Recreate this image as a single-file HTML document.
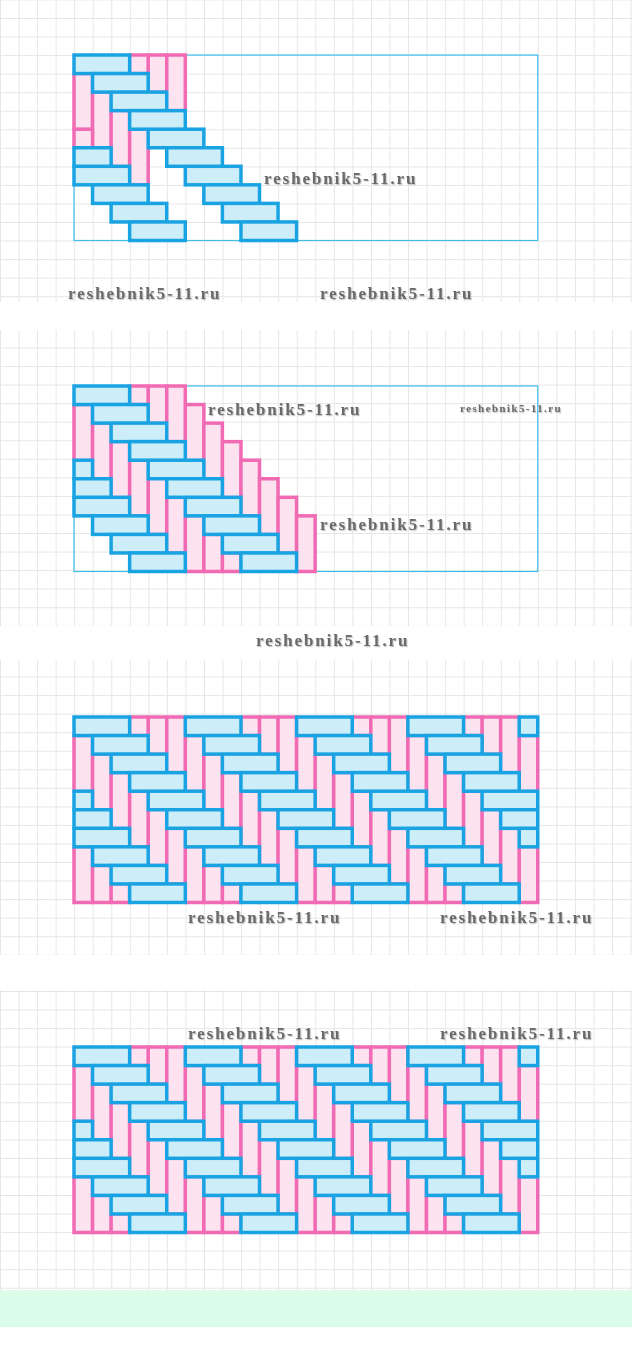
<!DOCTYPE html>
<html><head><meta charset="utf-8"><style>
html,body{margin:0;padding:0;background:#fff;width:632px;height:1360px;overflow:hidden;position:relative}
.sec{position:absolute;left:0;width:632px;
background-image:linear-gradient(#e6e6e6 1px,transparent 1px),linear-gradient(90deg,#e6e6e6 1px,transparent 1px);
background-size:18.55px 18.55px}
.wm{position:absolute;font-family:"Liberation Serif",serif;font-weight:bold;font-size:17px;letter-spacing:1.9px;color:#6a6a6a;text-shadow:1px 1px 1px #bbb;white-space:nowrap;line-height:1}
svg{position:absolute;left:0;top:0}
</style></head><body>
<div class="sec" style="top:0;height:302px;background-position:0 18px"></div>
<div class="sec" style="top:330px;height:296px;background-position:0 -1px"></div>
<div class="sec" style="top:660px;height:295px;background-position:0 -2px"></div>
<div class="sec" style="top:990px;height:300px;background-position:0 1px"></div>
<div style="position:absolute;top:1290px;left:0;width:632px;height:37px;background:#dcfcea"></div>
<svg id="s" width="632" height="1360"></svg>
<div class="wm" style="left:264px;top:170px">reshebnik5-11.ru</div>
<div class="wm" style="left:68px;top:285px">reshebnik5-11.ru</div>
<div class="wm" style="left:320px;top:285px">reshebnik5-11.ru</div>
<div class="wm" style="left:208px;top:401px">reshebnik5-11.ru</div>
<div class="wm" style="left:460px;top:404px;font-size:11px;letter-spacing:1.4px">reshebnik5-11.ru</div>
<div class="wm" style="left:320px;top:516px">reshebnik5-11.ru</div>
<div class="wm" style="left:256px;top:632px">reshebnik5-11.ru</div>
<div class="wm" style="left:188px;top:909px">reshebnik5-11.ru</div>
<div class="wm" style="left:440px;top:909px">reshebnik5-11.ru</div>
<div class="wm" style="left:188px;top:1025px">reshebnik5-11.ru</div>
<div class="wm" style="left:440px;top:1025px">reshebnik5-11.ru</div>
<script>
var s=document.getElementById('s'),u=18.55,out='';
function R(ox,oy,x0,y0,x1,y1,blue){
 x0=Math.max(0,x0);y0=Math.max(0,y0);x1=Math.min(25,x1);y1=Math.min(10,y1);
 if(x1<=x0||y1<=y0)return;
 out+='<rect x="'+(ox+x0*u)+'" y="'+(oy+y0*u)+'" width="'+((x1-x0)*u)+'" height="'+((y1-y0)*u)+'" fill="'+(blue?'#cdeef8':'#fde2f0')+'" stroke="'+(blue?'#1aa3e2':'#f06ab4')+'" stroke-width="3.5"/>';
}
function fig(ox,oy,pf,bf,extra){
 out+='<rect x="'+ox+'" y="'+oy+'" width="'+(25*u)+'" height="'+(10*u)+'" fill="none" stroke="#3cbfe8" stroke-width="1.2"/>';
 for(var x=0;x<25;x++)for(var k=-6;k<7;k++){var y0=x-5+6*k;if(pf(x,k))R(ox,oy,x,y0,x+1,y0+3,false);}
 if(extra)extra();
 for(var y=0;y<10;y++)for(var k=-3;k<7;k++){var x0=y+6*k;if(bf(y,k))R(ox,oy,x0,y,x0+3,y+1,true);}
}
fig(74,55,function(x,k){return (k==0&&x>=3&&x<=5)||(k==1&&x<=3);},function(y,k){return k==0||(k==-1&&y>=5);},function(){R(74,55,0,4,1,5,false);});
fig(74,386,function(x,k){return (k==0&&x>=3&&x<=12)||(k==1&&x<=8);},function(y,k){return k==0||k==-1;});
fig(74,717,function(){return true;},function(){return true;});
fig(74,1047,function(){return true;},function(){return true;});
s.innerHTML=out;
</script>
</body></html>
